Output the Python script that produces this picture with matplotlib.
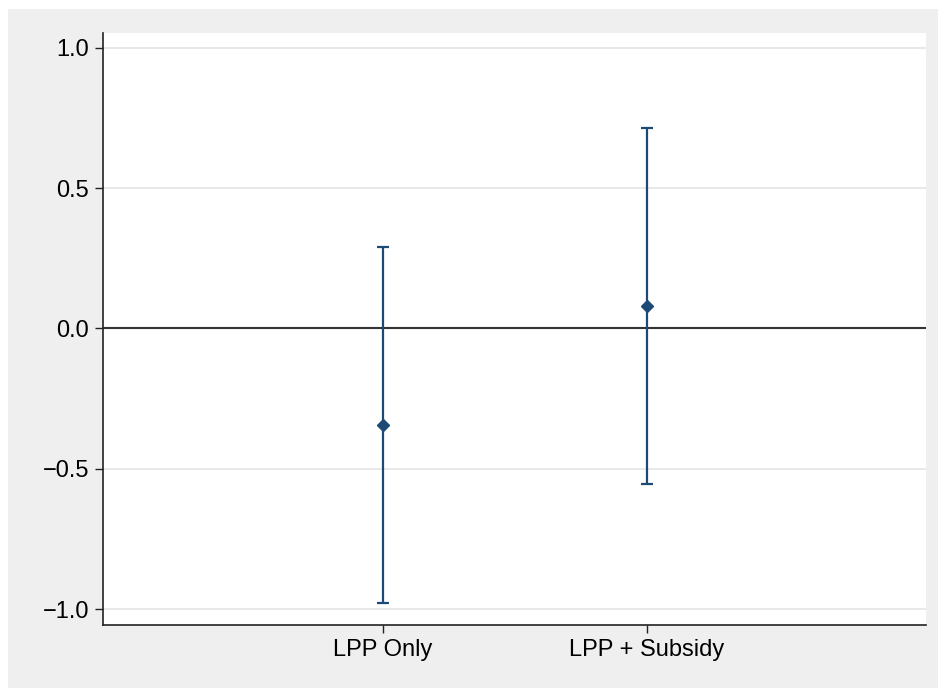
import numpy as np
import matplotlib.pyplot as plt
from matplotlib.patches import Rectangle

# valeurs
groupes = ["LPP Only", "LPP + Subsidy"]
positions = [1, 2]
estimation = [-0.344, 0.080]
borne_basse = [-0.978, -0.554]
borne_haute = [0.292, 0.714]
yticks = [-1.0, -0.5, 0.0, 0.5, 1.0]

plt.rcParams['font.family'] = ['Liberation Sans', 'DejaVu Sans']

fig = plt.figure(figsize=(9.38, 6.88), dpi=100, facecolor="white")
# fond gris facon Stata (derriere les axes)
fig.patches.append(Rectangle((8/938, 0), 1, 1 - 9/688, transform=fig.transFigure,
                             facecolor="#EFEFEF", edgecolor="none", zorder=-10))

ax = fig.add_axes([103/938, 1 - 625/688, (926 - 103)/938, (625 - 33)/688])
ax.set_facecolor("white")

bleu = "#1c4a74"
est = np.array(estimation)
err = [est - np.array(borne_basse), np.array(borne_haute) - est]
ax.errorbar(positions, est, yerr=err, fmt="D", color=bleu, ecolor=bleu,
            elinewidth=1.6, capsize=4.5, capthick=1.6, markersize=6.5, zorder=3)

ax.axhline(0, color="#333333", lw=1.5, zorder=2)
for y in yticks:
    if y != 0:
        ax.axhline(y, color="#E6E6E6", lw=1.3, zorder=1)

ax.set_xlim(-0.06, 3.057)
ax.set_ylim(-1.057, 1.053)
ax.set_xticks(positions)
ax.set_xticklabels(groupes)
ax.set_yticks(yticks)
ax.set_yticklabels(["\u22121.0", "\u22120.5", "0.0", "0.5", "1.0"])
ax.tick_params(labelsize=17, length=6, width=1, color="#222222", pad=4)

for s in ["top", "right"]:
    ax.spines[s].set_visible(False)
for s in ["left", "bottom"]:
    ax.spines[s].set_color("#222222")
    ax.spines[s].set_linewidth(1.2)

fig.savefig("out.png", dpi=100, facecolor="white")
